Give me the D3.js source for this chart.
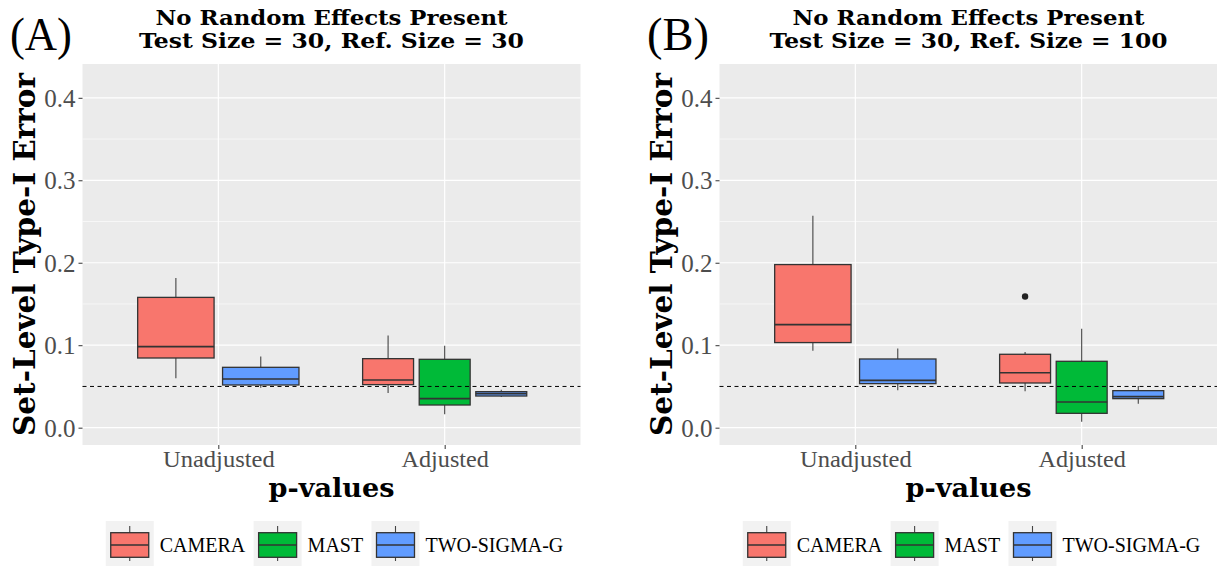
<!DOCTYPE html>
<html><head><meta charset="utf-8">
<script src="https://cdn.jsdelivr.net/npm/d3@7"></script>
<style>body{margin:0;background:#fff}svg{display:block}
.rs{font-family:"Liberation Serif","Times New Roman",Times,serif}
.bs{font-family:"DejaVu Serif","Liberation Serif",serif;font-weight:bold}
</style>
</head><body><svg id="c" width="1217" height="566"></svg>
<script>
// ---- data ----
const categories = ["Unadjusted", "Adjusted"];
const methods = ["CAMERA", "MAST", "TWO-SIGMA-G"];
const methodColors = ["#F8766D", "#00BA38", "#619CFF"];
const yTicks = [0, 0.1, 0.2, 0.3, 0.4];
const yMinorTicks = [0.05, 0.15, 0.25, 0.35];
const referenceLevel = 0.05;
const panelLabels = ["(A)", "(B)"];
const titleLine1 = ["No Random Effects Present", "No Random Effects Present"];
const titleLine2 = ["Test Size = 30, Ref. Size = 30", "Test Size = 30, Ref. Size = 100"];
const yAxisTitle = "Set-Level Type-I Error";
const xAxisTitle = "p-values";
// five-number summaries per category: [lower whisker, Q1, median, Q3, upper whisker]
const panelA_CAMERA = [[0.060, 0.0845, 0.0983, 0.158, 0.1816], [0.042, 0.0522, 0.0578, 0.0837, 0.1117]];
const panelA_MAST = [null, [0.0162, 0.0275, 0.0352, 0.0829, 0.0995]];
const panelA_TWOSIGMA = [[0.0485, 0.0518, 0.0591, 0.0732, 0.0862], [0.0372, 0.0384, 0.0413, 0.0437, 0.0461]];
const panelA_outliers = [[null, null], [null, null], [null, null]]; // [method][category]
const panelB_CAMERA = [[0.0934, 0.1032, 0.125, 0.1978, 0.2569], [0.0441, 0.0542, 0.0667, 0.089, 0.0918]];
const panelB_MAST = [null, [0.0073, 0.0174, 0.0311, 0.0805, 0.1201]];
const panelB_TWOSIGMA = [[0.0453, 0.0534, 0.0574, 0.0833, 0.0959], [0.0291, 0.0352, 0.0376, 0.0449, 0.0506]];
const panelB_outliers = [[null, [0.159]], [null, null], [null, null]]; // [method][category]

// ---- layout ----
const svg = d3.select("#c");
const panels = [
  {x0: 82.5, x1: 580.5, stats: [panelA_CAMERA, panelA_MAST, panelA_TWOSIGMA], out: panelA_outliers},
  {x0: 719.5, x1: 1217.5, stats: [panelB_CAMERA, panelB_MAST, panelB_TWOSIGMA], out: panelB_outliers}
];
const yTop = 64, yBot = 445;
const y = d3.scaleLinear().domain([-0.021, 0.441]).range([yBot, yTop]);

panels.forEach((p, pi) => {
  const g = svg.append("g");
  const x = d3.scalePoint().domain(categories).range([p.x0, p.x1]).padding(0.6);
  const step = x.step();
  const cx = (p.x0 + p.x1) / 2;

  g.append("rect").attr("x", p.x0).attr("y", yTop).attr("width", p.x1 - p.x0).attr("height", yBot - yTop).attr("fill", "#EBEBEB");
  g.selectAll(".ymin").data(yMinorTicks).join("line")
    .attr("x1", p.x0).attr("x2", p.x1).attr("y1", d => y(d)).attr("y2", d => y(d))
    .attr("stroke", "#fff").attr("stroke-width", 0.6);
  g.selectAll(".ymaj").data(yTicks).join("line")
    .attr("x1", p.x0).attr("x2", p.x1).attr("y1", d => y(d)).attr("y2", d => y(d))
    .attr("stroke", "#fff").attr("stroke-width", 1.2);
  g.selectAll(".xmaj").data(categories).join("line")
    .attr("x1", d => x(d)).attr("x2", d => x(d)).attr("y1", yTop).attr("y2", yBot)
    .attr("stroke", "#fff").attr("stroke-width", 1.2);

  // y axis
  const ya = d3.axisLeft(y).tickValues(yTicks).tickFormat(d3.format(".1f")).tickSize(4).tickPadding(3);
  const yg = g.append("g").attr("transform", `translate(${p.x0},0)`).call(ya).attr("font-family", null).attr("font-size", null);
  yg.select(".domain").remove();
  yg.selectAll(".tick line").attr("stroke", "#333").attr("stroke-width", 1);
  yg.selectAll(".tick text").attr("class", "rs").attr("fill", "#4D4D4D").style("font-size", "25px").attr("dy", "0.34em");

  // x axis
  const xa = d3.axisBottom(x).tickSize(4).tickPadding(3);
  const xg = g.append("g").attr("transform", `translate(0,${yBot})`).call(xa).attr("font-family", null).attr("font-size", null);
  xg.select(".domain").remove();
  xg.selectAll(".tick line").attr("stroke", "#333").attr("stroke-width", 1);
  xg.selectAll(".tick text").attr("class", "rs").attr("fill", "#4D4D4D").style("font-size", "23px")
    .attr("y", 21.7).attr("dy", 0)
    .attr("textLength", d => d === "Unadjusted" ? 111.7 : 87.3).attr("lengthAdjust", "spacingAndGlyphs");

  // boxes
  categories.forEach((cat, ci) => {
    const present = methods.map((m, mi) => mi).filter(mi => p.stats[mi][ci]);
    const n = present.length;
    const slot = 0.75 / n;
    present.forEach((mi, k) => {
      const s = p.stats[mi][ci];
      const c = x(cat) + step * (-0.375 + slot * (k + 0.5));
      const w = step * slot * 0.9;
      const bg = g.append("g");
      bg.append("line").attr("x1", c).attr("x2", c).attr("y1", y(s[4])).attr("y2", y(s[3])).attr("stroke", "#444").attr("stroke-width", 1.1);
      bg.append("line").attr("x1", c).attr("x2", c).attr("y1", y(s[1])).attr("y2", y(s[0])).attr("stroke", "#444").attr("stroke-width", 1.1);
      bg.append("rect").attr("x", c - w / 2).attr("y", y(s[3])).attr("width", w).attr("height", y(s[1]) - y(s[3]))
        .attr("fill", methodColors[mi]).attr("stroke", "#333").attr("stroke-width", 1.3);
      bg.append("line").attr("x1", c - w / 2).attr("x2", c + w / 2).attr("y1", y(s[2])).attr("y2", y(s[2])).attr("stroke", "#333").attr("stroke-width", 1.6);
      const o = p.out[mi][ci];
      if (o) bg.selectAll("circle").data(o).join("circle").attr("cx", c).attr("cy", d => y(d)).attr("r", 3.2).attr("fill", "#222");
    });
  });

  // reference line
  g.append("line").attr("x1", p.x0).attr("x2", p.x1).attr("y1", y(referenceLevel)).attr("y2", y(referenceLevel))
    .attr("stroke", "#000").attr("stroke-width", 1).attr("stroke-dasharray", "4,3.5");

  // titles
  g.append("text").attr("class", "bs").attr("x", cx).attr("y", 25).attr("text-anchor", "middle").style("font-size", "19.5px")
    .attr("textLength", 352).attr("lengthAdjust", "spacingAndGlyphs").text(titleLine1[pi]);
  g.append("text").attr("class", "bs").attr("x", cx).attr("y", 47.7).attr("text-anchor", "middle").style("font-size", "19.5px")
    .attr("textLength", pi === 0 ? 385 : 398).attr("lengthAdjust", "spacingAndGlyphs").text(titleLine2[pi]);
  g.append("text").attr("class", "rs").attr("x", p.x0 - 72.5).attr("y", 50).style("font-size", "46px")
    .attr("textLength", 62).attr("lengthAdjust", "spacingAndGlyphs").text(panelLabels[pi]);

  // axis titles
  g.append("text").attr("class", "bs").attr("transform", `translate(${p.x0 - 47.5},${(yTop + yBot) / 2}) rotate(-90)`).attr("text-anchor", "middle")
    .style("font-size", "29px")
    .attr("textLength", 363).attr("lengthAdjust", "spacingAndGlyphs").text(yAxisTitle);
  g.append("text").attr("class", "bs").attr("x", cx).attr("y", 496.7).attr("text-anchor", "middle")
    .style("font-size", "26px")
    .attr("textLength", 126).attr("lengthAdjust", "spacingAndGlyphs").text(xAxisTitle);

  // legend
  const lg = g.append("g");
  let lx = 0;
  const ly = 521;
  methods.forEach((m, mi) => {
    const kg = lg.append("g").attr("transform", `translate(${lx},${ly})`);
    kg.append("rect").attr("width", 48).attr("height", 45).attr("fill", "#F2F2F2");
    kg.append("line").attr("x1", 24).attr("x2", 24).attr("y1", 5).attr("y2", 40).attr("stroke", "#444").attr("stroke-width", 1.1);
    kg.append("rect").attr("x", 5).attr("y", 11.7).attr("width", 38).attr("height", 24.6).attr("fill", methodColors[mi]).attr("stroke", "#333").attr("stroke-width", 1.3);
    kg.append("line").attr("x1", 5).attr("x2", 43).attr("y1", 24).attr("y2", 24).attr("stroke", "#333").attr("stroke-width", 1.6);
    const t = lg.append("text").attr("class", "rs").attr("x", lx + 54).attr("y", 552).style("font-size", "20px").attr("fill", "#000").text(m);
    lx += 54 + t.node().getComputedTextLength() + 8.3;
  });
  const lw = lx - 8.3;
  lg.attr("transform", `translate(${cx + 3 - lw / 2},0)`);
});
</script></body></html>
